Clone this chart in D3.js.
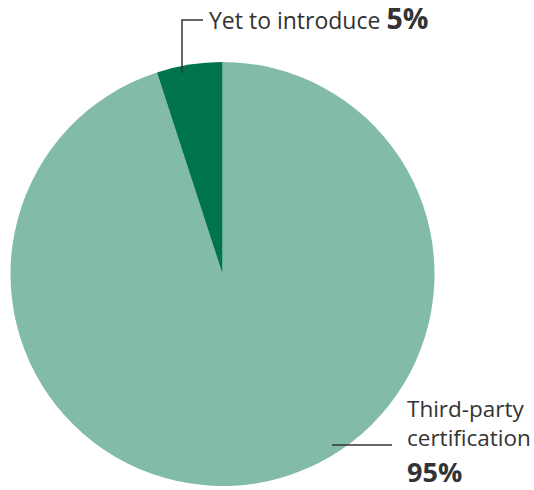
<!DOCTYPE html>
<html><head><meta charset="utf-8">
<script src="https://cdn.jsdelivr.net/npm/d3@7"></script>
<style>body{margin:0;background:#fff}svg{display:block}</style>
</head><body>
<script>
const categories = ["Third-party certification", "Yet to introduce"];
const values = [95, 5];
const labels = ["95%", "5%"];
const colors = ["#82BBA6", "#00744B"];

const W = 534, H = 490;
const cx = 222.5, cy = 274, r = 212;
const svg = d3.select("body").append("svg").attr("width", W).attr("height", H);
const g = svg.append("g").attr("transform", `translate(${cx},${cy})`);

const pie = d3.pie().sort(null).value(d => d.v);
const data = categories.map((c, i) => ({c, v: values[i], col: colors[i]}));
const arcs = pie(data);
const arc = d3.arc().innerRadius(0).outerRadius(r);
g.selectAll("path").data(arcs).join("path")
  .attr("d", arc).attr("fill", d => d.data.col);

const font = "'Open Sans', sans-serif";
const tc = "#333";
// leader for small slice
svg.append("path").attr("d", "M182,73V20H203").attr("fill", "none")
  .attr("stroke", tc).attr("stroke-width", 1.5);
const t1 = svg.append("text").attr("x", 209).attr("y", 29)
  .attr("font-family", font).attr("fill", tc);
t1.append("tspan").attr("font-size", 23).text(categories[1] + " ");
t1.append("tspan").attr("font-size", 28.5).attr("font-weight", "bold").text(labels[1]);

// leader for large slice
svg.append("path").attr("d", "M332,445H392").attr("fill", "none")
  .attr("stroke", tc).attr("stroke-width", 1.5);
const t2 = svg.append("text").attr("font-family", font).attr("fill", tc);
t2.append("tspan").attr("x", 407).attr("y", 417).attr("font-size", 22.5).text("Third-party");
t2.append("tspan").attr("x", 407).attr("y", 446).attr("font-size", 22.5).text("certification");
t2.append("tspan").attr("x", 407).attr("y", 482).attr("font-size", 27).attr("font-weight", "bold").text(labels[0]);
</script>
</body></html>
